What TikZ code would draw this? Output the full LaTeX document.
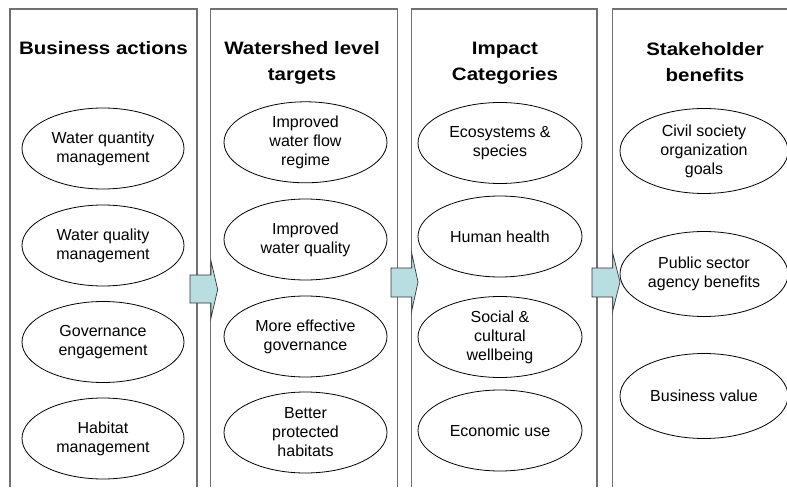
\documentclass[tikz,border=0pt]{standalone}
\usepackage{fontspec}
\setmainfont{Liberation Sans}
\newfontfamily\titlefont{Liberation Sans}[FakeStretch=1.14]
\usetikzlibrary{shapes.geometric}
\definecolor{boxgray}{HTML}{707070}
\definecolor{arrowfill}{HTML}{B9DEE2}
\begin{document}
\begin{tikzpicture}[x=1pt,y=-1pt,
  colbox/.style={draw=boxgray, line width=1.4pt},
  coltitle/.style={font=\titlefont\bfseries\fontsize{18}{26}\selectfont, align=center, anchor=north, inner sep=0pt},
  bubble/.style={ellipse, draw=black, line width=0.8pt, inner sep=0pt, align=center, font=\fontsize{16}{19}\selectfont},
  bubA/.style={bubble, minimum width=162pt, minimum height=81pt},
  bubB/.style={bubble, minimum width=163pt, minimum height=81pt},
  bubC/.style={bubble, minimum width=164pt, minimum height=81pt},
  bubD/.style={bubble, minimum width=168pt, minimum height=85pt},
  blockarrow/.style={fill=arrowfill, draw=black!80, line width=0.7pt, line join=miter}
]
\useasboundingbox (0,0) rectangle (787,489);

% column frames (open at the bottom)
\draw[colbox] (10,487) -- (10,9) -- (197,9) -- (197,487);
\draw[colbox] (210.5,487) -- (210.5,9) -- (397.5,9) -- (397.5,487);
\draw[colbox] (411.5,487) -- (411.5,9) -- (597,9) -- (597,487);
\draw[colbox] (612.5,487) -- (612.5,9) -- (800,9);

% titles
\node[coltitle] (t1) at (103.5,41.5) {Business actions};
\node[coltitle] (t2) at (302,41.5) {Watershed level\\targets};
\node[coltitle] (t3) at (505,41.5) {Impact\\Categories};
\node[coltitle] (t4) at (705,42.5) {Stakeholder\\benefits};

% block arrows
\draw[blockarrow] (190,275) -- (211,275) -- (211,261) -- (217.7,289.5) -- (211,318) -- (211,303) -- (190,303) -- cycle;
\draw[blockarrow] (391,268) -- (411.7,268) -- (411.7,253) -- (418,282) -- (411.7,311) -- (411.7,297) -- (391,297) -- cycle;
\draw[blockarrow] (592,268) -- (612.7,268) -- (612.7,253) -- (620,282) -- (612.7,311) -- (612.7,297) -- (592,297) -- cycle;

% column 1
\node[bubA] (a1) at (103,148.5) {Water quantity\\management};
\node[bubA] (a2) at (103,245.5) {Water quality\\management};
\node[bubA] (a3) at (103,342) {Governance\\engagement};
\node[bubA] (a4) at (103,438.5) {Habitat\\management};

% column 2
\node[bubB] (b1) at (305.5,142.3) {Improved\\water flow\\regime};
\node[bubB] (b2) at (305.5,239.5) {Improved\\water quality};
\node[bubB] (b3) at (305.5,336.5) {More effective\\governance};
\node[bubB] (b4) at (305.5,432.5) {Better\\protected\\habitats};

% column 3
\node[bubC] (c1) at (500,143) {Ecosystems \&\\species};
\node[bubC] (c2) at (500,236.5) {Human health};
\node[bubC] (c3) at (500,337) {Social \&\\cultural\\wellbeing};
\node[bubC] (c4) at (500,430.5) {Economic use};

% column 4
\node[bubD] (d1) at (704,151) {Civil society\\organization\\goals};
\node[bubD] (d2) at (704,274) {Public sector\\agency benefits};
\node[bubD] (d3) at (704,396) {Business value};
\end{tikzpicture}
\end{document}
